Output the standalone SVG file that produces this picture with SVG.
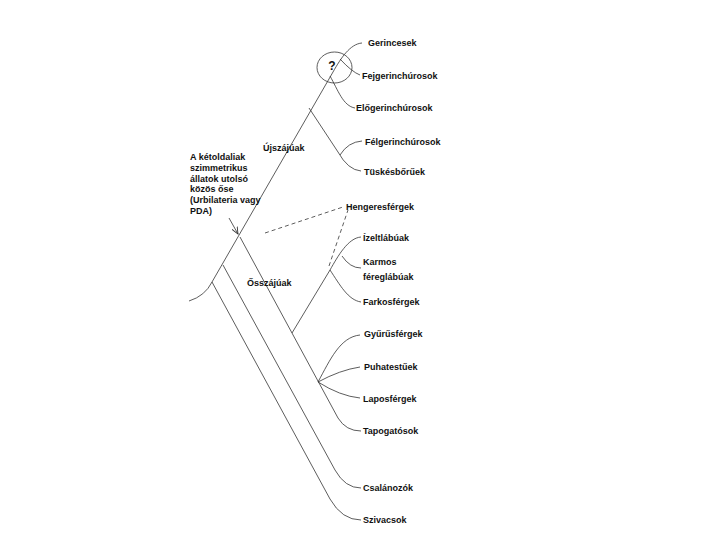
<svg xmlns="http://www.w3.org/2000/svg" width="720" height="540" viewBox="0 0 720 540">
<defs>
<style>
text{font-family:"Liberation Sans",Arial,sans-serif;font-size:9px;font-weight:bold;fill:#111}
.ln{fill:none;stroke:#333;stroke-width:0.8}
.dash{fill:none;stroke:#333;stroke-width:0.8;stroke-dasharray:4,3}
</style>
<marker id="ah" markerWidth="8" markerHeight="8" refX="7" refY="4" orient="auto" markerUnits="userSpaceOnUse">
<path d="M0,1 L7,4 L0,7" fill="none" stroke="#333" stroke-width="0.9"/>
</marker>
</defs>
<rect width="720" height="540" fill="#fff"/>
<g id="connectors">
<path class="ln" d="M189,301 Q205,296 212,282 L333,72 C341,58 350,44 362,43"/>
<path class="ln" d="M340,59 Q352,72 360,75"/>
<path class="ln" d="M330,76 C338,90 343,106 355,108"/>
<path class="ln" d="M309,108 L338,152 Q348,170 361,171"/>
<path class="ln" d="M340,155 Q348,142 362,141"/>
<path class="dash" d="M265,233 L343,207"/>
<path class="dash" d="M329,266 L348,210"/>
<path class="ln" d="M240,237 L338,418 Q346,431 361,431"/>
<path class="ln" d="M292,333 L330,270 C338,256 348,238 361,237"/>
<path class="ln" d="M342,256 Q350,268 361,268"/>
<path class="ln" d="M330,270 C340,285 348,300 361,302"/>
<path class="ln" d="M318,382 C330,360 340,337 360,335"/>
<path class="ln" d="M318,382 Q340,370 360,367"/>
<path class="ln" d="M318,382 Q340,396 360,398"/>
<path class="ln" d="M223,265 L335,470 Q345,488 361,488"/>
<path class="ln" d="M212,282 L330,499 Q342,520 361,520"/>
<path class="ln" d="M229,218 L238,234" marker-end="url(#ah)"/>
</g>
<g id="unknown">
<ellipse cx="334.5" cy="67.5" rx="17.5" ry="15.5" fill="none" stroke="#333" stroke-width="0.8"/>
<text x="332" y="70" text-anchor="middle" style="font-size:12px">?</text>
</g>
<g id="n-gerincesek"><text x="368" y="46">Gerincesek</text></g>
<g id="n-fejgerinchurosok"><text x="362" y="79">Fejgerinchúrosok</text></g>
<g id="n-elogerinchurosok"><text x="356" y="111">Előgerinchúrosok</text></g>
<g id="n-felgerinchurosok"><text x="365" y="145">Félgerinchúrosok</text></g>
<g id="n-tuskesboruek"><text x="364" y="175">Tüskésbőrűek</text></g>
<g id="n-hengeresfergek"><text x="346" y="210">Hengeresférgek</text></g>
<g id="n-izeltlabuak"><text x="363" y="241">Ízeltlábúak</text></g>
<g id="n-karmos"><text x="363" y="265">Karmos</text><text x="363" y="280">féreglábúak</text></g>
<g id="n-farkosfergek"><text x="363" y="305">Farkosférgek</text></g>
<g id="n-gyurusfergek"><text x="364" y="337">Gyűrűsférgek</text></g>
<g id="n-puhatestuek"><text x="364" y="370">Puhatestűek</text></g>
<g id="n-laposfergek"><text x="363" y="402">Laposférgek</text></g>
<g id="n-tapogatosok"><text x="363" y="434">Tapogatósok</text></g>
<g id="n-csalanozok"><text x="363" y="491">Csalánozók</text></g>
<g id="n-szivacsok"><text x="363" y="523">Szivacsok</text></g>
<g id="l-ujszajuak"><text x="263" y="151">Újszájúak</text></g>
<g id="l-osszajuak"><text x="247" y="286">Ősszájúak</text></g>
<g id="l-pda">
<text x="190" y="160">A kétoldaliak</text>
<text x="190" y="171">szimmetrikus</text>
<text x="190" y="182">állatok utolsó</text>
<text x="190" y="192">közös őse</text>
<text x="190" y="203">(Urbilateria vagy</text>
<text x="190" y="214">PDA)</text>
</g>
</svg>
